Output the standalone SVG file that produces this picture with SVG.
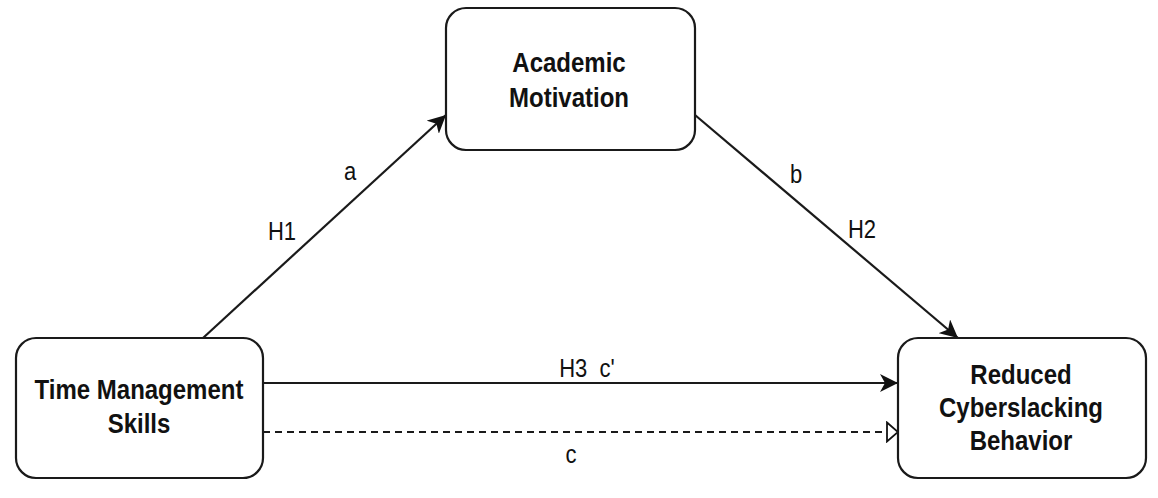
<svg xmlns="http://www.w3.org/2000/svg" width="1158" height="498" viewBox="0 0 1158 498">
<style>
.box{fill:#fff;stroke:#1a1a1a;stroke-width:2.2}
.nt{font-family:"Liberation Sans",Arial,sans-serif;font-weight:bold;font-size:24px;fill:#111;text-anchor:middle}
.lt{font-family:"Liberation Sans",Arial,sans-serif;font-size:22px;fill:#111;text-anchor:middle}
.ln{stroke:#1a1a1a;stroke-width:2.2;fill:none}
</style>
<defs>
<marker id="ah" markerUnits="userSpaceOnUse" viewBox="0 0 18 18" refX="18" refY="9" markerWidth="18" markerHeight="18" orient="auto">
<path d="M0,0 L18,9 L0,18 L5,9 z" fill="#111"/>
</marker>
<marker id="oh" markerUnits="userSpaceOnUse" viewBox="0 0 13 22" refX="12" refY="11" markerWidth="13" markerHeight="22" orient="auto">
<path d="M1,1.5 L12,11 L1,20.5 z" fill="#fff" stroke="#111" stroke-width="1.8"/>
</marker>
</defs>
<rect width="1158" height="498" fill="#fff"/>
<g id="connectors">
<line class="ln" x1="203" y1="338" x2="446" y2="115" marker-end="url(#ah)"/>
<line class="ln" x1="695" y1="115" x2="958" y2="338" marker-end="url(#ah)"/>
<line class="ln" x1="263" y1="383" x2="898" y2="383" marker-end="url(#ah)"/>
<line class="ln" x1="263" y1="432" x2="887" y2="432" stroke-dasharray="7,5"/>
<line x1="887" y1="432" x2="898" y2="432" stroke="none" marker-end="url(#oh)"/>
<text class="lt" transform="translate(350,180) scale(1,1.13)">a</text>
<text class="lt" transform="translate(282,240) scale(1,1.13)">H1</text>
<text class="lt" transform="translate(796,183) scale(1,1.13)">b</text>
<text class="lt" transform="translate(862,238) scale(1,1.13)">H2</text>
<text class="lt" transform="translate(587,377) scale(1,1.13)" xml:space="preserve">H3  c'</text>
<text class="lt" transform="translate(571,463) scale(1,1.13)">c</text>
</g>
<g id="academic-motivation">
<rect class="box" x="446" y="8" width="249" height="142" rx="20"/>
<text class="nt" transform="translate(569,72) scale(1,1.13)">Academic</text>
<text class="nt" transform="translate(569,107) scale(1,1.13)">Motivation</text>
</g>
<g id="time-management">
<rect class="box" x="16" y="338" width="247" height="140" rx="20"/>
<text class="nt" transform="translate(139,399) scale(1,1.13)">Time Management</text>
<text class="nt" transform="translate(139,433) scale(1,1.13)">Skills</text>
</g>
<g id="reduced-cyberslacking">
<rect class="box" x="898" y="338" width="248" height="140" rx="20"/>
<text class="nt" transform="translate(1021,384) scale(1,1.13)">Reduced</text>
<text class="nt" transform="translate(1021,417) scale(1,1.13)">Cyberslacking</text>
<text class="nt" transform="translate(1021,450) scale(1,1.13)">Behavior</text>
</g>
</svg>
